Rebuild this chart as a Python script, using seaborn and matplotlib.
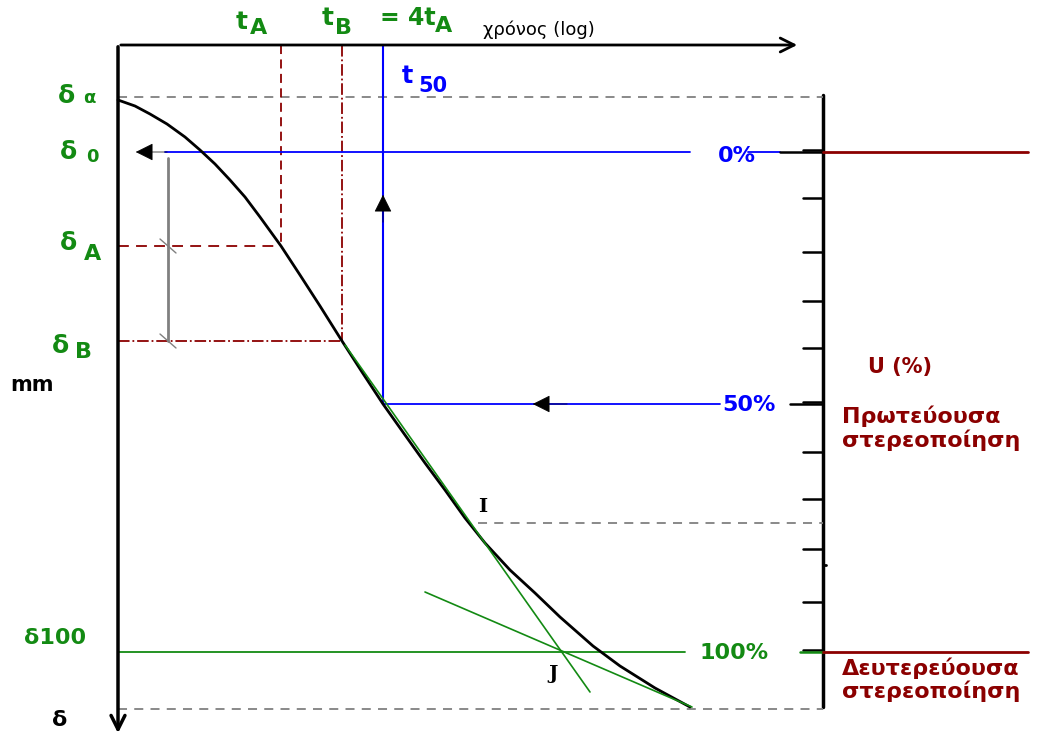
import numpy as np
import pandas as pd
import matplotlib
matplotlib.use("Agg")
import matplotlib.pyplot as plt
import seaborn as sns

# ---- data (drawing units) ----
curve_t = [118, 135, 150, 167, 185, 200, 215, 230, 245, 260, 281, 300, 320, 342, 362, 383,
           405, 425, 445, 465, 485, 510, 535, 560, 593, 620, 655, 690]
curve_d = [100, 106, 114, 124, 137, 150, 164, 180, 197, 217, 246, 275, 306, 341, 372, 404,
           435, 463, 490, 518, 543, 570, 593, 617, 646, 666, 688, 707]

d_alpha, d0, dA, dB, d50, dI, d100, d_end = 97, 152, 246, 341, 404, 523, 652, 709
tA, tB, t50, tI = 281, 342, 383, 478
u_ticks = [150, 198, 252, 301, 348, 402, 452, 499, 549, 602, 650]

tang1_t = [345, 590]
tang1_d = [345, 692]
tang2_t = [425, 692]
tang2_d = [592, 707]

GREEN = "#138a13"
RED = "#8b0000"
BLUE = "#0000ff"

sns.set_theme(style="white")
plt.rcParams["font.family"] = ["DejaVu Sans"]

fig = plt.figure(figsize=(10.64, 7.36), dpi=100)
ax = fig.add_axes([0, 0, 1, 1])
ax.set_xlim(0, 1064)
ax.set_ylim(736, 0)
ax.axis("off")

# ---- axes of the diagram ----
ax.annotate("", xy=(800, 45), xytext=(118, 45),
            arrowprops=dict(arrowstyle="->", color="black", lw=2, mutation_scale=25))
ax.annotate("", xy=(118, 736), xytext=(118, 44),
            arrowprops=dict(arrowstyle="->", color="black", lw=2.5, mutation_scale=25))
ax.plot([823, 823], [95, 707], color="black", lw=2.5)
for y in u_ticks:
    ax.plot([803, 823], [y, y], color="black", lw=1.8)
ax.plot([823, 826], [565, 565], color="black", lw=2)

# ---- reference lines ----
ax.plot([118, 823], [d_alpha, d_alpha], color="gray", lw=1.3, ls=(0, (5, 4)))
ax.plot([118, 823], [d_end, d_end], color="gray", lw=1.3, ls=(0, (5, 4)))
ax.plot([tI, 823], [dI, dI], color="gray", lw=1.3, ls=(0, (5, 4)))

ax.plot([tA, tA], [45, dA], color=RED, lw=1.3, ls=(0, (5, 3)))
ax.plot([118, tA], [dA, dA], color=RED, lw=1.3, ls=(0, (6, 4)))
ax.plot([tB, tB], [45, dB], color=RED, lw=1.3, ls="-.")
ax.plot([118, tB], [dB, dB], color=RED, lw=1.3, ls="-.")

ax.plot([165, 690], [d0, d0], color=BLUE, lw=1.3)
ax.plot([748, 780], [d0, d0], color=BLUE, lw=1.3)
ax.plot([780, 823], [d0, d0], color="black", lw=1.8)
ax.plot([823, 1028], [d0, d0], color=RED, lw=2)
ax.plot([t50, t50], [45, d50], color=BLUE, lw=1.5)
ax.plot([t50, 720], [d50, d50], color=BLUE, lw=1.3)
ax.plot([790, 823], [d50, d50], color="black", lw=1.8)

ax.plot([118, 685], [d100, d100], color=GREEN, lw=1.3)
ax.plot([800, 823], [d100, d100], color=GREEN, lw=1.8)
ax.plot([823, 1028], [d100, d100], color=RED, lw=2)

# arrows
ax.annotate("", xy=(133, d0), xytext=(170, d0),
            arrowprops=dict(arrowstyle="-|>", color="black", lw=0.5, mutation_scale=28))
ax.annotate("", xy=(t50, 192), xytext=(t50, 225),
            arrowprops=dict(arrowstyle="-|>", color="black", lw=0.5, mutation_scale=28))
ax.annotate("", xy=(530, d50), xytext=(570, d50),
            arrowprops=dict(arrowstyle="-|>", color="black", lw=0.5, mutation_scale=28))

# delta0 - deltaB bracket
ax.plot([168, 168], [158, dB], color="gray", lw=2)
ax.plot([160, 176], [dA - 7, dA + 7], color="gray", lw=1)
ax.plot([160, 176], [dB - 7, dB + 7], color="gray", lw=1)

# ---- consolidation curve and tangents ----
df = pd.DataFrame({"t": curve_t, "d": curve_d})
sns.lineplot(data=df, x="t", y="d", ax=ax, color="black", lw=2, sort=False)
ax.plot(tang1_t, tang1_d, color=GREEN, lw=1.2)
ax.plot(tang2_t, tang2_d, color=GREEN, lw=1.2)

# ---- texts ----
bold = dict(fontweight="bold")
ax.text(483, 30, "χρόνος (log)", fontsize=13, color="black", ha="left", va="center")
ax.text(236, 22, "t", fontsize=18, color=GREEN, va="center", **bold)
ax.text(250, 28, "A", fontsize=16, color=GREEN, va="center", **bold)
ax.text(322, 18, "t", fontsize=18, color=GREEN, va="center", **bold)
ax.text(335, 28, "B", fontsize=16, color=GREEN, va="center", **bold)
ax.text(380, 18, "= 4t", fontsize=17, color=GREEN, va="center", **bold)
ax.text(435, 26, "A", fontsize=16, color=GREEN, va="center", **bold)
ax.text(402, 76, "t", fontsize=17, color=BLUE, va="center", **bold)
ax.text(418, 86, "50", fontsize=15, color=BLUE, va="center", **bold)

ax.text(58, 96, "δ", fontsize=18, color=GREEN, va="center", **bold)
ax.text(83, 98, "α", fontsize=13, color=GREEN, va="center", **bold)
ax.text(60, 152, "δ", fontsize=18, color=GREEN, va="center", **bold)
ax.text(86, 157, "0", fontsize=13, color=GREEN, va="center", **bold)
ax.text(60, 243, "δ", fontsize=18, color=GREEN, va="center", **bold)
ax.text(84, 254, "A", fontsize=16, color=GREEN, va="center", **bold)
ax.text(52, 346, "δ", fontsize=18, color=GREEN, va="center", **bold)
ax.text(75, 352, "B", fontsize=16, color=GREEN, va="center", **bold)
ax.text(10, 385, "mm", fontsize=15, color="black", va="center", **bold)
ax.text(24, 638, "δ100", fontsize=16, color=GREEN, va="center", **bold)
ax.text(52, 720, "δ", fontsize=16, color="black", va="center", **bold)

ax.text(718, 156, "0%", fontsize=16, color=BLUE, va="center", **bold)
ax.text(722, 405, "50%", fontsize=16, color=BLUE, va="center", **bold)
ax.text(700, 653, "100%", fontsize=16, color=GREEN, va="center", **bold)
ax.text(tI, 507, "I", fontsize=14, color="black", va="center", family="serif", **bold)
ax.text(548, 674, "J", fontsize=14, color="black", va="center", family="serif", **bold)

ax.text(868, 367, "U (%)", fontsize=15, color=RED, va="center", **bold)
ax.text(842, 416, "Πρωτεύουσα", fontsize=16, color=RED, va="center", **bold)
ax.text(842, 440, "στερεοποίηση", fontsize=16, color=RED, va="center", **bold)
ax.text(842, 668, "Δευτερεύουσα", fontsize=16, color=RED, va="center", **bold)
ax.text(842, 691, "στερεοποίηση", fontsize=16, color=RED, va="center", **bold)

fig.savefig("out.png", dpi=100)
